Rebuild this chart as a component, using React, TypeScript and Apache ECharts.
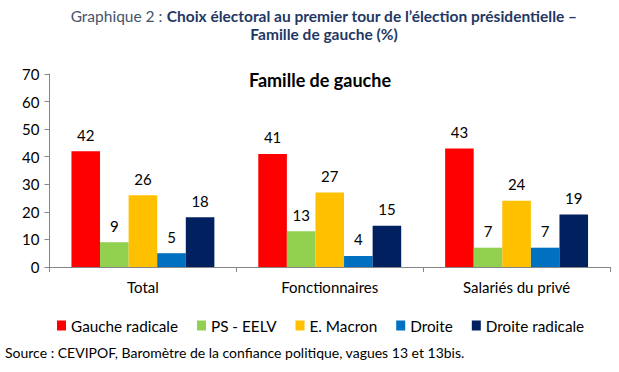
import React, { useEffect, useRef } from "react";
import * as echarts from "echarts";

const categories = ["Total", "Fonctionnaires", "Salariés du privé"];
const seriesNames = ["Gauche radicale", "PS - EELV", "E. Macron", "Droite", "Droite radicale"];
const gaucheRadicale = [42, 41, 43];
const psEelv = [9, 13, 7];
const macron = [26, 27, 24];
const droite = [5, 4, 7];
const droiteRadicale = [18, 15, 19];
const colors = ["#FF0000", "#92D050", "#FFC000", "#0070C0", "#002060"];
const yTicks = { min: 0, max: 70, interval: 10 };

const FONT = "Lato, 'Open Sans', sans-serif";

export default function App() {
  const ref = useRef<HTMLDivElement>(null);
  useEffect(() => {
    if (!ref.current) return;
    const chart = echarts.init(ref.current, null, { renderer: "svg" });
    const values = [gaucheRadicale, psEelv, macron, droite, droiteRadicale];
    chart.setOption({
      animation: false,
      backgroundColor: "#FFFFFF",
      textStyle: { fontFamily: FONT },
      title: [
        {
          text:
            "{a|Graphique 2 : }{b|Choix électoral au premier tour de l’élection présidentielle –}\n{b|Famille de gauche (%)}",
          left: 319,
          top: 2,
          textAlign: "center",
          textStyle: {
            rich: {
              a: { fontFamily: FONT, fontSize: 15.5, color: "#44546A", fontWeight: "normal", lineHeight: 18, align: "center" },
              b: { fontFamily: FONT, fontSize: 15.5, color: "#1F3864", fontWeight: "bold", lineHeight: 18, align: "center" },
            },
          },
        },
        {
          text: "Famille de gauche",
          left: 315,
          textAlign: "center",
          top: 66,
          textStyle: { fontFamily: FONT, fontSize: 18, color: "#000000", fontWeight: "bold" },
        },
      ],
      legend: {
        data: seriesNames,
        left: 52,
        top: 313,
        itemWidth: 9,
        itemHeight: 10,
        itemGap: 19,
        icon: "rect",
        textStyle: { fontFamily: FONT, fontSize: 15.3, color: "#000000", padding: [0, 0, 0, 0] },
      },
      grid: { left: 49.5, right: 9, top: 74, bottom: 105, containLabel: false },
      xAxis: {
        type: "category",
        data: categories,
        axisLine: { show: true, lineStyle: { color: "#868686", width: 1 } },
        axisTick: { show: true, alignWithLabel: false, length: 5, lineStyle: { color: "#868686" } },
        axisLabel: { fontFamily: FONT, fontSize: 15, color: "#000000", margin: 12 },
      },
      yAxis: {
        type: "value",
        min: yTicks.min,
        max: yTicks.max,
        interval: yTicks.interval,
        splitLine: { show: false },
        axisLine: { show: true, lineStyle: { color: "#868686", width: 1 } },
        axisTick: { show: true, length: 5, lineStyle: { color: "#868686" } },
        axisLabel: { fontFamily: FONT, fontSize: 15, color: "#000000", margin: 10 },
      },
      series: seriesNames.map((name, i) => ({
        name,
        type: "bar",
        data: values[i],
        barGap: "0%",
        barCategoryGap: "23.5%",
        itemStyle: { color: colors[i] },
        label: {
          show: true,
          position: "top",
          distance: 9,
          fontFamily: FONT,
          fontSize: 15,
          color: "#000000",
        },
      })),
      graphic: [
        {
          type: "text",
          left: 5,
          top: 345,
          style: {
            text: "Source : CEVIPOF, Baromètre de la confiance politique, vagues 13 et 13bis.",
            fontFamily: FONT,
            fontSize: 14,
            fill: "#000000",
          },
        },
      ],
    });
    return () => chart.dispose();
  }, []);
  return (
    <div
      ref={ref}
      style={{ position: "fixed", left: 0, top: 0, width: 619, height: 372 }}
    />
  );
}
